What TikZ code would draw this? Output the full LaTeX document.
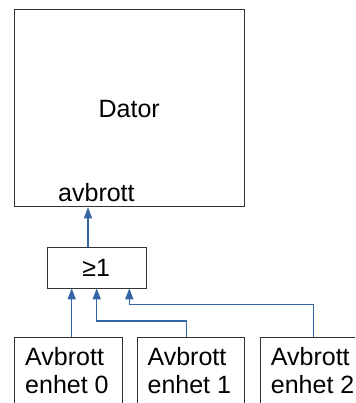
\documentclass[tikz,border=0pt]{standalone}
\usepackage{fontspec}
\setmainfont{Liberation Sans}
\usetikzlibrary{arrows.meta}
\definecolor{sigblue}{HTML}{3465A4}
\definecolor{boxline}{HTML}{333333}
\tikzset{
  box/.style={draw=boxline, line width=1pt, fill=white, inner sep=0pt, anchor=north west},
  lbl/.style={inner sep=0pt, font=\fontsize{25}{30}\selectfont},
  sig/.style={draw=sigblue, line width=1.2pt, -{Triangle[length=11pt,width=8pt]}},
}
\begin{document}
\begin{tikzpicture}[x=1pt,y=-1pt]
  \useasboundingbox (0,0) rectangle (355,403);
  \clip (0,0) rectangle (355,403);

  % computer
  \node[box, minimum width=229.7pt, minimum height=197pt] (dator) at (14.3,9.3) {};
  \node[lbl, anchor=base] (datortxt) at (129.2,117.3) {Dator};
  \node[lbl, anchor=base west] (irqtxt) at (58,201.3) {avbrott};

  % OR gate
  \node[box, minimum width=98.4pt, minimum height=41.6pt] (or) at (47.3,246.7) {};
  \node[lbl, anchor=base] (ortxt) at (96.3,276.7) {≥1};

  % interrupt sources
  \node[box, minimum width=107.4pt, minimum height=90pt] (u0) at (14.3,337.3) {};
  \node[box, minimum width=107.3pt, minimum height=90pt] (u1) at (136.7,337.3) {};
  \node[box, minimum width=107.3pt, minimum height=90pt] (u2) at (260,336.7) {};
  \node[lbl, anchor=base west] (u0a) at (25,365) {Avbrott};
  \node[lbl, anchor=base west] (u0b) at (25,393.3) {enhet 0};
  \node[lbl, anchor=base west] (u1a) at (147.4,365) {Avbrott};
  \node[lbl, anchor=base west] (u1b) at (147.4,393.3) {enhet 1};
  \node[lbl, anchor=base west] (u2a) at (270.7,365) {Avbrott};
  \node[lbl, anchor=base west] (u2b) at (270.7,393.3) {enhet 2};

  % gate inputs and output
  \coordinate (in0) at (71.7,288.3);
  \coordinate (in1) at (96.7,288.3);
  \coordinate (in2) at (129.3,288.3);
  \coordinate (outx) at (88,0);

  \draw[sig] (outx |- or.north) -- (outx |- dator.south);
  \draw[sig] (in0 |- u0.north) -- (in0);
  \draw[sig] ([xshift=50pt]u1.north west) |- (96.7,321) -- (in1);
  \draw[sig] ([xshift=53.3pt]u2.north west) |- (129.3,304.3) -- (in2);
\end{tikzpicture}
\end{document}
